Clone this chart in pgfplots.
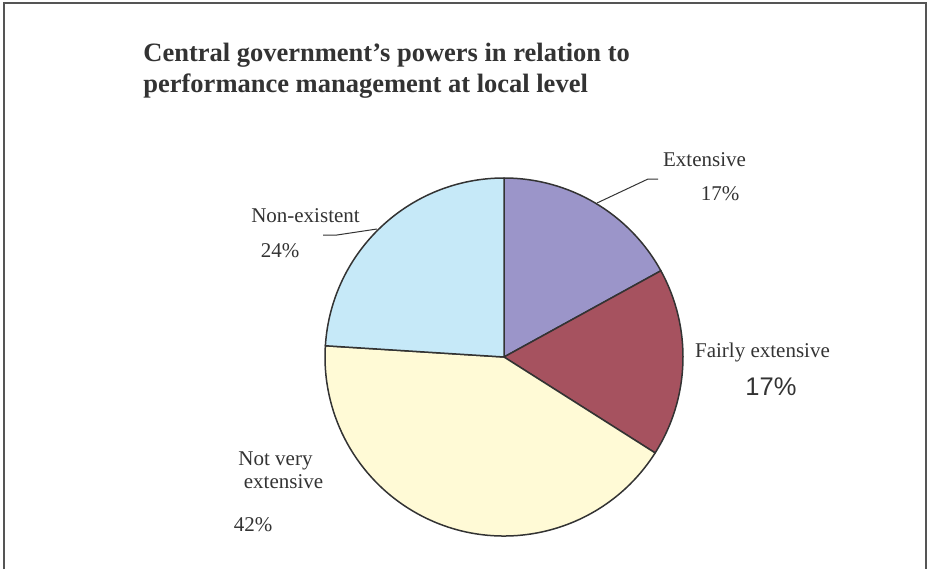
\documentclass[border=0pt]{standalone}
\usepackage{fontspec}
\setmainfont{Liberation Serif}
\newfontfamily\arialfont{Liberation Sans}
\usepackage{pgfplots}
\usepackage{pgfplotstable}
\pgfplotsset{compat=1.18}
\definecolor{cExt}{HTML}{9B95C9}
\definecolor{cFair}{HTML}{A6525F}
\definecolor{cNot}{HTML}{FFFAD6}
\definecolor{cNon}{HTML}{C6E9F8}
\definecolor{txt}{HTML}{333333}
\definecolor{frm}{HTML}{555555}

\pgfplotstableread{
name value col
Extensive 17 cExt
Fairly 17 cFair
NotVery 42 cNot
NonExistent 24 cNon
}\piedata

\begin{document}
\begin{tikzpicture}
\begin{axis}[
  scale only axis, width=464.5pt, height=284.5pt,
  xmin=0, xmax=929, ymin=0, ymax=569,
  hide axis, clip=false,
]
% frame
\draw[line width=1pt, color=frm] (axis cs:4,0) -- (axis cs:4,565.5) -- (axis cs:925.5,565.5) -- (axis cs:925.5,0);
% pie slices from table
\def\cumul{90}
\pgfplotsforeachungrouped \i in {0,1,2,3}{%
  \pgfplotstablegetelem{\i}{value}\of\piedata \let\sliceval\pgfplotsretval
  \pgfplotstablegetelem{\i}{col}\of\piedata \let\slicecol\pgfplotsretval
  \pgfmathsetmacro\endang{\cumul-3.6*\sliceval}%
  \edef\temp{\noexpand\filldraw[fill=\slicecol, draw=txt, line width=0.75pt, line join=round] (axis cs:504,212) -- ++(\cumul:89.5pt) arc[start angle=\cumul, end angle=\endang, radius=89.5pt] -- cycle;}%
  \temp
  \global\let\cumul\endang
}
% leader lines
\draw[txt, line width=0.5pt] (axis cs:658,390) -- (axis cs:648,390) -- (axis cs:597,366);
\draw[txt, line width=0.5pt] (axis cs:323,334) -- (axis cs:337,334) -- (axis cs:377,340);
% title
\node[anchor=base west, inner sep=0, text=txt, font=\fontsize{13.25}{15.5}\selectfont\bfseries] at (axis cs:143,508) {Central government’s powers in relation to};
\node[anchor=base west, inner sep=0, text=txt, font=\fontsize{13.25}{15.5}\selectfont\bfseries] at (axis cs:143,477) {performance management at local level};
% labels
\begin{scope}[every node/.style={anchor=base, inner sep=0, text=txt, font=\fontsize{10.5}{12}\selectfont}]
\node at (axis cs:704.5,403) {Extensive};
\node at (axis cs:720,369) {17\%};
\node at (axis cs:762.5,212) {Fairly extensive};
\node[font=\arialfont\fontsize{12.75}{14}\selectfont] at (axis cs:771,174) {17\%};
\node at (axis cs:305.5,347) {Non-existent};
\node at (axis cs:280,312) {24\%};
\node at (axis cs:275.5,104) {Not very};
\node at (axis cs:283.5,81) {extensive};
\node at (axis cs:253,38) {42\%};
\end{scope}
\end{axis}
\pgfresetboundingbox
\path (0,0) rectangle (464.5pt,284.5pt);
\end{tikzpicture}
\end{document}
